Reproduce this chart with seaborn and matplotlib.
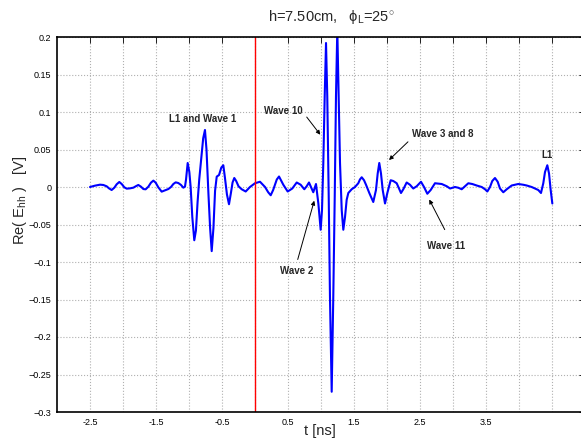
import matplotlib
matplotlib.use('Agg')
import matplotlib.pyplot as plt
import seaborn as sns
import numpy as np

# time axis [ns] and Re(E_hh) [V]
t_ns = [-2.500, -2.424, -2.348, -2.298, -2.247, -2.212, -2.172, -2.131, -2.096, -2.056,
        -2.020, -1.980, -1.944, -1.894, -1.843, -1.808, -1.768, -1.727, -1.692, -1.657,
        -1.616, -1.576, -1.540, -1.505, -1.465, -1.414, -1.364, -1.313, -1.273, -1.237,
        -1.202, -1.162, -1.121, -1.086, -1.061, -1.045, -1.020, -0.995, -0.975, -0.950,
        -0.920, -0.895, -0.870, -0.845, -0.810, -0.785, -0.758, -0.735, -0.705, -0.680,
        -0.656, -0.630, -0.605, -0.580, -0.545, -0.510, -0.480, -0.455, -0.425, -0.394,
        -0.365, -0.340, -0.314, -0.285, -0.250, -0.202, -0.141, -0.076, 0.000, 0.076,
        0.152, 0.200, 0.238, 0.275, 0.303, 0.330, 0.364, 0.429, 0.495, 0.565,
        0.632, 0.692, 0.747, 0.783, 0.818, 0.848, 0.883, 0.924, 0.960, 0.995,
        1.015, 1.035, 1.056, 1.076, 1.095, 1.117, 1.136, 1.162, 1.186, 1.208,
        1.227, 1.247, 1.268, 1.288, 1.314, 1.338, 1.364, 1.389, 1.414, 1.465,
        1.515, 1.565, 1.590, 1.617, 1.652, 1.682, 1.732, 1.792, 1.833, 1.859,
        1.883, 1.909, 1.935, 1.970, 2.005, 2.056, 2.095, 2.147, 2.182, 2.212,
        2.247, 2.298, 2.348, 2.398, 2.450, 2.515, 2.561, 2.611, 2.662, 2.727,
        2.829, 2.905, 2.955, 3.030, 3.080, 3.132, 3.182, 3.232, 3.292, 3.359,
        3.435, 3.485, 3.520, 3.561, 3.595, 3.636, 3.677, 3.712, 3.762, 3.814,
        3.889, 3.989, 4.065, 4.117, 4.192, 4.242, 4.292, 4.333, 4.368, 4.394,
        4.429, 4.455, 4.480, 4.505]
re_ehh = [0.000, 0.0018, 0.0031, 0.0027, 0.0009, -0.0018, -0.0040, -0.0009, 0.0036, 0.0067,
          0.0040, -0.0004, -0.0022, -0.0018, -0.0009, 0.0009, 0.0027, 0.0004, -0.0027, -0.0031,
          0.0004, 0.0058, 0.0085, 0.0058, -0.0004, -0.0062, -0.0045, -0.0027, 0.000, 0.0040,
          0.0062, 0.0053, 0.0027, -0.0009, 0.0004, 0.010, 0.032, 0.020, 0.000, -0.040,
          -0.071, -0.058, -0.020, 0.010, 0.042, 0.065, 0.076, 0.050, -0.010, -0.055,
          -0.0855, -0.055, -0.005, 0.0138, 0.016, 0.026, 0.029, 0.012, -0.010, -0.023,
          -0.008, 0.006, 0.012, 0.008, 0.001, -0.003, -0.006, 0.000, 0.005, 0.007,
          0.000, -0.007, -0.011, -0.004, 0.003, 0.010, 0.014, 0.003, -0.006, -0.002,
          0.006, 0.003, -0.003, 0.001, 0.006, 0.000, -0.007, 0.004, -0.022, -0.057,
          -0.031, 0.032, 0.121, 0.192, 0.121, -0.013, -0.147, -0.273, -0.147, -0.013,
          0.121, 0.210, 0.121, 0.032, -0.031, -0.057, -0.040, -0.017, -0.008, -0.003,
          0.000, 0.005, 0.010, 0.013, 0.009, 0.003, -0.008, -0.020, -0.004, 0.018,
          0.032, 0.018, -0.004, -0.022, -0.008, 0.009, 0.008, 0.005, -0.002, -0.008,
          -0.003, 0.006, 0.003, -0.002, 0.001, 0.007, 0.000, -0.009, -0.004, 0.005,
          0.004, 0.001, -0.002, 0.000, -0.001, -0.003, 0.001, 0.005, 0.004, 0.002,
          0.000, -0.003, -0.006, 0.000, 0.008, 0.012, 0.007, -0.002, -0.007, -0.003,
          0.002, 0.004, 0.003, 0.002, 0.000, -0.002, -0.004, -0.008, 0.005, 0.020,
          0.029, 0.018, -0.004, -0.022]

xticks = [-2.5, -2.0, -1.5, -1.0, -0.5, 0.0, 0.5, 1.0, 1.5, 2.0, 2.5, 3.0, 3.5, 4.0, 4.5]
xtick_labels = ['-2.5', '', '-1.5', '', '-0.5', '', '0.5', '', '1.5', '', '2.5', '', '3.5', '', '']
yticks = [-0.3, -0.25, -0.2, -0.15, -0.1, -0.05, 0, 0.05, 0.1, 0.15, 0.2]
ytick_labels = ['\u22120.3', '\u22120.25', '\u22120.2', '\u22120.15', '\u22120.1', '\u22120.05',
                '0', '0.05', '0.1', '0.15', '0.2']

# annotations: text, text position, arrow head (None = no arrow), arrow tail
notes = [
    ('L1 and Wave 1', (-0.795, 0.0908), None, None),
    ('Wave 10', (0.432, 0.1015), (1.015, 0.0668), (0.758, 0.0962)),
    ('Wave 3 and 8', (2.841, 0.0708), (2.0, 0.0334), (2.348, 0.0628)),
    ('L1', (4.417, 0.0428), None, None),
    ('Wave 2', (0.636, -0.1122), (0.909, -0.0147), (0.636, -0.1002)),
    ('Wave 11', (2.894, -0.0788), (2.621, -0.0134), (2.894, -0.0601)),
]

sns.set_style('white')
plt.rcParams['font.family'] = ['Liberation Sans', 'DejaVu Sans']
plt.rcParams['mathtext.fontset'] = 'custom'
plt.rcParams['mathtext.rm'] = 'Liberation Sans'
plt.rcParams['mathtext.it'] = 'Liberation Sans:italic'

fig = plt.figure(figsize=(5.81, 4.43), dpi=100)
ax = fig.add_axes([57 / 581, 31 / 443, 528 / 581, 375 / 443])

sns.lineplot(x=t_ns, y=re_ehh, ax=ax, color='blue', lw=1.5, sort=False,
             solid_joinstyle='round')
ax.axvline(0, color='red', lw=1.0)

ax.set_xlim(-3, 5)
ax.set_ylim(-0.3, 0.2)
ax.set_xticks(xticks)
ax.set_xticklabels(xtick_labels)
ax.set_yticks(yticks)
ax.set_yticklabels(ytick_labels)
ax.tick_params(direction='in', length=4, width=0.6, labelsize=6.5, top=True, right=True,
               colors='black', pad=4)
ax.grid(True, ls=':', color='#b0b0b0', lw=0.8)
for sp in ax.spines.values():
    sp.set_color('black')
    sp.set_linewidth(1.2)

for txt, pos, head, tail in notes:
    ax.text(pos[0], pos[1], txt, fontsize=7, fontweight='bold', ha='center', va='center')
    if head is not None:
        ax.annotate('', xy=head, xytext=tail,
                    arrowprops=dict(arrowstyle='-|>', color='black', lw=0.7, mutation_scale=6))

fig.text(331 / 581, 1 - 17 / 443, 'h=7.50cm,   \u03d5$_{\\mathrm{L}}$=25$^{\\circ}$',
         ha='center', va='center', fontsize=10.5)
fig.text(320 / 581, 1 - 431 / 443, 't [ns]', ha='center', va='center', fontsize=10.5)
fig.text(20 / 581, 1 - 200 / 443, r'Re( E$_{\mathrm{hh}}$ )   [V]', ha='center', va='center',
         rotation=90, fontsize=10.5)

fig.savefig('out.png', dpi=100)
